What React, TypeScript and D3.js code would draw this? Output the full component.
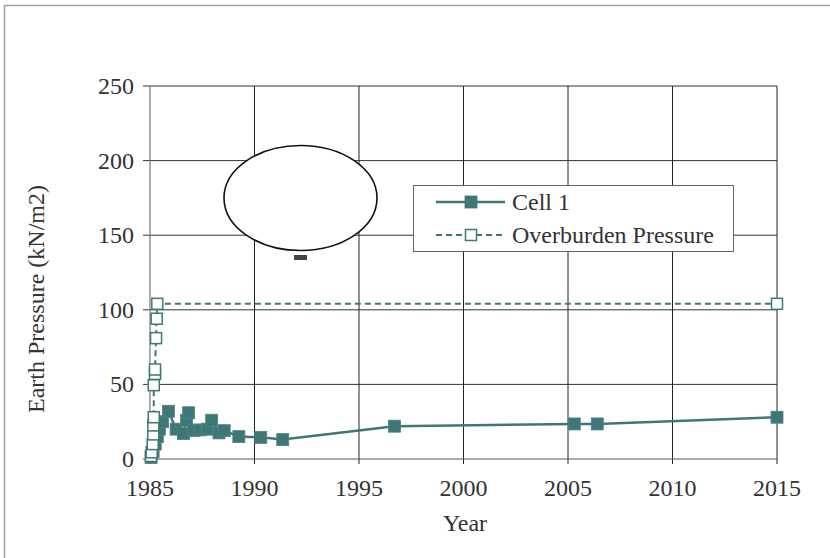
import React, { useEffect, useRef } from "react";
import * as d3 from "d3";

// Earth pressure readings for Cell 1 (decimal year, kN/m2)
const cellYears = [
  1985.05, 1985.15, 1985.25, 1985.35, 1985.45, 1985.6, 1985.88, 1986.25, 1986.6,
  1986.75, 1986.85, 1987.1, 1987.4, 1987.75, 1987.95, 1988.3, 1988.55, 1989.25,
  1990.3, 1991.35, 1996.7, 2005.3, 2006.4, 2015.0,
];
const cellValues = [
  1, 5, 10, 15, 20, 25, 32, 20, 17, 26, 31, 19, 19.5, 20, 26, 17.5, 19, 15, 14.5,
  13, 22, 23.5, 23.5, 28,
];

// Overburden pressure as fill was placed (decimal year, kN/m2)
const overYears = [
  1985.05, 1985.08, 1985.13, 1985.16, 1985.16, 1985.18, 1985.18, 1985.24, 1985.24,
  1985.29, 1985.32, 1985.35, 2015.0,
];
const overValues = [2, 4.5, 10, 16.5, 22.5, 28, 49.5, 57, 60, 81, 94, 104, 104];

const xTicks = [1985, 1990, 1995, 2000, 2005, 2010, 2015];
const yTicks = [0, 50, 100, 150, 200, 250];

const seriesNames = ["Cell 1", "Overburden Pressure"];

const W = 830;
const H = 558;
const TEAL = "#3f7777";
const FONT = "'Liberation Serif', 'Times New Roman', serif";
const FS = 24;

export default function App() {
  const ref = useRef<SVGSVGElement>(null);

  useEffect(() => {
    const svg = d3.select(ref.current);
    svg.selectAll("*").remove();

    const x = d3.scaleLinear().domain([1985, 2015]).range([150, 777]);
    const y = d3.scaleLinear().domain([0, 250]).range([459, 86]);

    // chart frame
    svg
      .append("rect")
      .attr("x", 4.5)
      .attr("y", 5.5)
      .attr("width", W + 10)
      .attr("height", H + 10)
      .attr("fill", "#fff")
      .attr("stroke", "#a0a0a0")
      .attr("stroke-width", 1.5);

    // gridlines
    const grid = svg.append("g");
    grid
      .selectAll("line.h")
      .data(yTicks.filter((t) => t > 0))
      .join("line")
      .attr("x1", x(1985) - 7)
      .attr("x2", x(2015))
      .attr("y1", (d) => y(d))
      .attr("y2", (d) => y(d))
      .attr("stroke", "#333")
      .attr("stroke-width", 1);
    grid
      .selectAll("line.v")
      .data(xTicks.filter((t) => t > 1985))
      .join("line")
      .attr("x1", (d) => x(d))
      .attr("x2", (d) => x(d))
      .attr("y1", y(250))
      .attr("y2", y(0) + 5)
      .attr("stroke", "#222")
      .attr("stroke-width", 1);

    // axes
    svg
      .append("line")
      .attr("x1", x(1985))
      .attr("x2", x(1985))
      .attr("y1", y(250))
      .attr("y2", y(0) + 5)
      .attr("stroke", "#777")
      .attr("stroke-width", 1.2);
    svg
      .append("line")
      .attr("x1", x(1985) - 7)
      .attr("x2", x(2015))
      .attr("y1", y(0))
      .attr("y2", y(0))
      .attr("stroke", "#555")
      .attr("stroke-width", 1.2);

    // tick labels
    svg
      .append("g")
      .selectAll("text")
      .data(yTicks)
      .join("text")
      .attr("x", 134)
      .attr("y", (d) => y(d) + 8)
      .attr("text-anchor", "end")
      .attr("font-family", FONT)
      .attr("font-size", FS)
      .attr("fill", "#333")
      .text((d) => String(d));
    svg
      .append("g")
      .selectAll("text")
      .data(xTicks)
      .join("text")
      .attr("x", (d) => x(d))
      .attr("y", 496)
      .attr("text-anchor", "middle")
      .attr("font-family", FONT)
      .attr("font-size", FS)
      .attr("fill", "#333")
      .text((d) => String(d));

    // axis titles
    svg
      .append("text")
      .attr("x", 465)
      .attr("y", 531)
      .attr("text-anchor", "middle")
      .attr("font-family", FONT)
      .attr("font-size", FS)
      .attr("fill", "#333")
      .text("Year");
    svg
      .append("text")
      .attr("transform", "translate(44,299) rotate(-90)")
      .attr("text-anchor", "middle")
      .attr("font-family", FONT)
      .attr("font-size", FS)
      .attr("fill", "#333")
      .text("Earth Pressure (kN/m2)");

    const line = d3
      .line<[number, number]>()
      .x((d) => x(d[0]))
      .y((d) => y(d[1]));

    const cellPts: [number, number][] = cellYears.map((t, i) => [t, cellValues[i]]);
    const overPts: [number, number][] = overYears.map((t, i) => [t, overValues[i]]);

    // Cell 1 series
    svg
      .append("path")
      .attr("d", line(cellPts))
      .attr("fill", "none")
      .attr("stroke", TEAL)
      .attr("stroke-width", 2.5);
    const fs = 12;
    svg
      .append("g")
      .selectAll("rect")
      .data(cellPts)
      .join("rect")
      .attr("x", (d) => x(d[0]) - fs / 2)
      .attr("y", (d) => y(d[1]) - fs / 2)
      .attr("width", fs)
      .attr("height", fs)
      .attr("fill", TEAL)
      .attr("stroke", "#4c8585")
      .attr("stroke-width", 0.8);

    // overburden series
    svg
      .append("path")
      .attr("d", line(overPts))
      .attr("fill", "none")
      .attr("stroke", TEAL)
      .attr("stroke-width", 2)
      .attr("stroke-dasharray", "6,4");
    const os = 11;
    svg
      .append("g")
      .selectAll("rect")
      .data(overPts)
      .join("rect")
      .attr("x", (d) => x(d[0]) - os / 2)
      .attr("y", (d) => y(d[1]) - os / 2)
      .attr("width", os)
      .attr("height", os)
      .attr("fill", "#fff")
      .attr("stroke", TEAL)
      .attr("stroke-width", 1.5);

    // callout ellipse
    svg
      .append("ellipse")
      .attr("cx", 300.5)
      .attr("cy", 198)
      .attr("rx", 76.5)
      .attr("ry", 52.5)
      .attr("fill", "#fff")
      .attr("stroke", "#111")
      .attr("stroke-width", 1.6);
    svg
      .append("rect")
      .attr("x", 294)
      .attr("y", 255)
      .attr("width", 13)
      .attr("height", 5)
      .attr("fill", "#444");

    // legend
    const lg = svg.append("g");
    lg.append("rect")
      .attr("x", 413.5)
      .attr("y", 185.5)
      .attr("width", 320)
      .attr("height", 66)
      .attr("fill", "#fff")
      .attr("stroke", "#666")
      .attr("stroke-width", 1);
    const rows = [202, 235];
    seriesNames.forEach((name, i) => {
      const yy = rows[i];
      lg.append("line")
        .attr("x1", 436)
        .attr("x2", 505)
        .attr("y1", yy)
        .attr("y2", yy)
        .attr("stroke", TEAL)
        .attr("stroke-width", i === 0 ? 2.5 : 2)
        .attr("stroke-dasharray", i === 0 ? null : "6,4");
      const s = i === 0 ? fs : os;
      lg.append("rect")
        .attr("x", 471 - s / 2)
        .attr("y", yy - s / 2)
        .attr("width", s)
        .attr("height", s)
        .attr("fill", i === 0 ? TEAL : "#fff")
        .attr("stroke", TEAL)
        .attr("stroke-width", i === 0 ? 0.8 : 1.5);
      lg.append("text")
        .attr("x", 512)
        .attr("y", yy + 8)
        .attr("font-family", FONT)
        .attr("font-size", FS)
        .attr("fill", "#333")
        .text(name);
    });
  }, []);

  return (
    <svg
      ref={ref}
      width={W}
      height={H}
      style={{ position: "fixed", left: 0, top: 0, display: "block" }}
    />
  );
}
